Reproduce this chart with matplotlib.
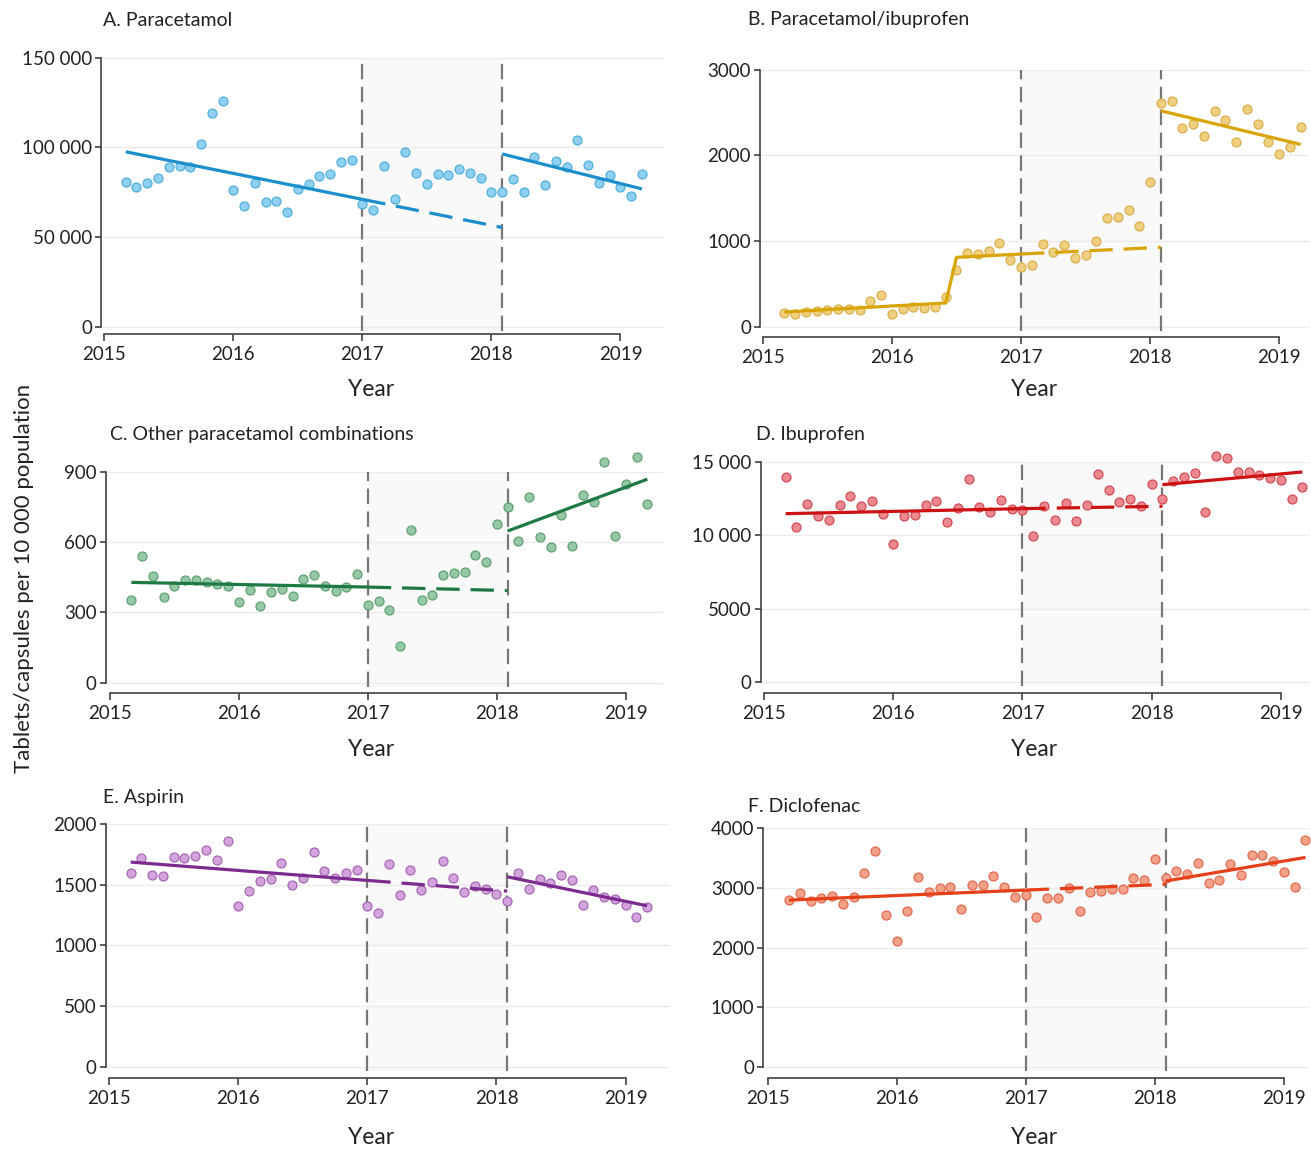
import matplotlib
matplotlib.use('Agg')
import matplotlib.pyplot as plt
import numpy as np

W, H, DPI = 1311, 1151, 100
plt.rcParams['font.family'] = ['Lato', 'DejaVu Sans']

# Monthly observations, March 2015 .. March 2019 (49 months)
N_MONTHS = 49
FIRST_MONTH = 2015 + 2 / 12  # March 2015
IDX_ANNOUNCE = 22            # January 2017
IDX_RESCHED = 35             # February 2018

paracetamol = [80800, 78000, 80100, 82900, 88800, 89600, 89200, 101800, 118900, 125800,
               76400, 67100, 80100, 69300, 70100, 64100, 76800, 79500, 83800, 84900,
               91800, 92900, 68200, 64900, 89700, 71000, 97500, 85500, 79400, 84900,
               84700, 87700, 85800, 82900, 74900, 74900, 82200, 74900, 94800, 79000,
               92200, 89000, 104100, 90100, 80300, 84400, 77700, 72900, 85100]
paracetamol_ibuprofen = [167, 148, 175, 190, 194, 206, 206, 198, 303, 369,
                         152, 210, 237, 218, 233, 346, 668, 862, 851, 882,
                         979, 777, 696, 719, 967, 878, 959, 800, 839, 1002,
                         1267, 1282, 1360, 1181, 1690, 2611, 2634, 2319, 2362, 2226,
                         2514, 2413, 2160, 2537, 2362, 2156, 2013, 2094, 2334]
other_combinations = [353, 539, 457, 367, 413, 438, 438, 431, 421, 413,
                      343, 397, 329, 386, 401, 370, 441, 461, 411, 391,
                      408, 465, 332, 349, 310, 158, 650, 354, 373, 458,
                      467, 474, 546, 516, 677, 748, 606, 791, 622, 578,
                      717, 585, 800, 770, 943, 626, 847, 964, 763]
ibuprofen = [13961, 10576, 12142, 11346, 11053, 12074, 12667, 12006, 12367, 11461,
             9439, 11305, 11373, 12097, 12347, 10896, 11890, 13824, 11958, 11577,
             12415, 11802, 11713, 9984, 11986, 11032, 12210, 10985, 12074, 14206,
             13096, 12299, 12462, 12006, 13484, 12503, 13729, 14002, 14253, 11597,
             15411, 15254, 14321, 14301, 14097, 13913, 13797, 12483, 13300]
aspirin = [1593, 1717, 1579, 1568, 1725, 1717, 1738, 1785, 1705, 1862,
           1324, 1450, 1530, 1546, 1675, 1499, 1552, 1771, 1612, 1552,
           1598, 1618, 1324, 1263, 1667, 1417, 1623, 1455, 1519, 1692,
           1557, 1436, 1491, 1461, 1420, 1365, 1593, 1461, 1549, 1516,
           1577, 1535, 1334, 1458, 1395, 1381, 1332, 1236, 1315]
diclofenac = [2797, 2909, 2775, 2831, 2870, 2730, 2848, 3255, 3623, 2546,
              2116, 2618, 3183, 2937, 2993, 3010, 2641, 3043, 3054, 3199,
              3010, 2842, 2876, 2507, 2831, 2836, 3003, 2618, 2926, 2953,
              2976, 2982, 3171, 3137, 3479, 3160, 3283, 3233, 3412, 3087,
              3132, 3395, 3211, 3546, 3551, 3456, 3261, 3020, 3797]

# fitted segmented-regression lines: (month indices, values)
trend_pre_idx = {'A': [0, 22], 'B': [0, 15, 16, 22], 'C': [0, 22], 'D': [0, 22], 'E': [0, 22], 'F': [0, 22]}
trend_pre_val = {'A': [97500, 71000], 'B': [175, 280, 812, 851], 'C': [428, 408],
                 'D': [11482, 11824], 'E': [1686, 1535], 'F': [2797, 2965]}
trend_cf_val = {'A': [71000, 55300], 'B': [851, 929], 'C': [408, 393],
                'D': [11824, 11986], 'E': [1535, 1447], 'F': [2965, 3060]}
trend_post_val = {'A': [96300, 76800], 'B': [2521, 2129], 'C': [647, 868],
                  'D': [13457, 14321], 'E': [1565, 1326], 'F': [3116, 3512]}

titles = {'A': 'A. Paracetamol', 'B': 'B. Paracetamol/ibuprofen',
          'C': 'C. Other paracetamol combinations', 'D': 'D. Ibuprofen',
          'E': 'E. Aspirin', 'F': 'F. Diclofenac'}
series = {'A': paracetamol, 'B': paracetamol_ibuprofen, 'C': other_combinations,
          'D': ibuprofen, 'E': aspirin, 'F': diclofenac}
yticks = {'A': [0, 50000, 100000, 150000], 'B': [0, 1000, 2000, 3000],
          'C': [0, 300, 600, 900], 'D': [0, 5000, 10000, 15000],
          'E': [0, 500, 1000, 1500, 2000], 'F': [0, 1000, 2000, 3000, 4000]}
ytick_labels = {'A': ['0', '50 000', '100 000', '150 000'],
                'B': ['0', '1000', '2000', '3000'],
                'C': ['0', '300', '600', '900'],
                'D': ['0', '5000', '10 000', '15 000'],
                'E': ['0', '500', '1000', '1500', '2000'],
                'F': ['0', '1000', '2000', '3000', '4000']}
xtick_years = [2015, 2016, 2017, 2018, 2019]

line_colors = {'A': '#1a8fcb', 'B': '#d9a406', 'C': '#1d7a43', 'D': '#cc1212',
               'E': '#7b2c8e', 'F': '#e6401b'}
face_colors = {'A': '#8dd0ef', 'B': '#f0d07e', 'C': '#95c8a4', 'D': '#ec8890',
               'E': '#d3a3dc', 'F': '#f3a189'}
edge_colors = {'A': '#4eaedc', 'B': '#d9ae4c', 'C': '#5d9f70', 'D': '#d04a52',
               'E': '#a564b4', 'F': '#e0684c'}

# layout in pixels: left, right, top, bottom, ylim bottom, xlim, spine offset px
layout = {
    'A': (101, 665, 57.6, 330.7, -2230, (2014.975, 2019.345), 3.6),
    'B': (760, 1310, 69.7, 331, -46.6, (2014.978, 2019.239), 5.7),
    'C': (105.7, 663, 471.7, 686.7, -17, (2014.968, 2019.288), 6.3),
    'D': (760.7, 1310, 462, 686.3, -272, (2014.973, 2019.226), 6.7),
    'E': (105.7, 670, 824, 1070.7, -33, (2014.973, 2019.344), 7.3),
    'F': (763.3, 1310, 828.3, 1071, -67, (2014.967, 2019.202), 7.3),
}
title_pos = {'A': (103, 20), 'B': (748, 20), 'C': (110, 435), 'D': (756, 435),
             'E': (103, 798), 'F': (748, 806)}
year_pos = {'A': (371, 390), 'B': (1034, 390), 'C': (371, 750), 'D': (1034, 750),
            'E': (371, 1138), 'F': (1034, 1138)}

PX = 72 / DPI  # points per pixel

fig = plt.figure(figsize=(W / DPI, H / DPI), dpi=DPI)
fig.patch.set_facecolor('white')

def mx(i):
    return FIRST_MONTH + np.asarray(i) / 12

for key in 'ABCDEF':
    l, r, t, b, ybot, xlim, off = layout[key]
    ax = fig.add_axes([l / W, 1 - b / H, (r - l) / W, (b - t) / H])
    ax.set_xlim(*xlim)
    ax.set_ylim(ybot, yticks[key][-1])
    x_announce = mx(IDX_ANNOUNCE)
    x_resched = mx(IDX_RESCHED)
    ax.axvspan(x_announce, x_resched, color='#f9f9f9', zorder=0, lw=0)
    for yv in yticks[key]:
        ax.axhline(yv, color='#ececec', lw=1.4 * PX, zorder=0.5)
    for xv in (x_announce, x_resched):
        ax.axvline(xv, color='#777777', lw=2.2 * PX, ls=(0, (7.0, 3.4)), zorder=1)
    vals = series[key]
    ax.plot(mx(np.arange(len(vals))), vals, 'o', ms=9 * PX, mfc=face_colors[key],
            mec=edge_colors[key], mew=1.2 * PX, zorder=3, clip_on=False)
    c = line_colors[key]
    lw = 3.2 * PX
    ax.plot(mx(trend_pre_idx[key]), trend_pre_val[key], color=c, lw=lw, zorder=4,
            solid_capstyle='butt')
    ax.plot(mx([IDX_ANNOUNCE, IDX_RESCHED]), trend_cf_val[key], color=c, lw=lw, zorder=4,
            ls=(0, (7.3, 3.4)), dash_capstyle='butt')
    ax.plot(mx([IDX_RESCHED, N_MONTHS - 1]), trend_post_val[key], color=c, lw=lw, zorder=4,
            solid_capstyle='butt')

    for s in ('top', 'right'):
        ax.spines[s].set_visible(False)
    for s in ('left', 'bottom'):
        ax.spines[s].set_color('#3a3a3a')
        ax.spines[s].set_linewidth(1.6 * PX)
    ax.spines['bottom'].set_position(('outward', off * PX))
    ax.spines['left'].set_bounds(0, yticks[key][-1])
    ax.spines['bottom'].set_bounds(xtick_years[0], xtick_years[-1])
    ax.set_yticks(yticks[key])
    ax.set_yticklabels(ytick_labels[key])
    ax.set_xticks(xtick_years)
    ax.set_xticklabels([str(y) for y in xtick_years])
    ax.tick_params(axis='y', length=6 * PX, width=1.6 * PX, color='#3a3a3a',
                   labelsize=13.5, labelcolor='#222222', pad=3 * PX)
    ax.tick_params(axis='x', length=7 * PX, width=1.6 * PX, color='#3a3a3a',
                   labelsize=13.5, labelcolor='#222222', pad=5 * PX)
    ax.set_facecolor('none')

    tx, ty = title_pos[key]
    fig.text(tx / W, 1 - ty / H, titles[key], fontsize=14, color='#222222',
             ha='left', va='center')
    yx, yy = year_pos[key]
    fig.text(yx / W, 1 - yy / H, 'Year', fontsize=16.5, color='#222222',
             ha='center', va='center')

fig.text(24 / W, 1 - 578 / H, 'Tablets/capsules per 10 000 population', fontsize=16,
         color='#222222', rotation=90, ha='center', va='center')

fig.savefig('out.png', dpi=DPI, facecolor='white')
